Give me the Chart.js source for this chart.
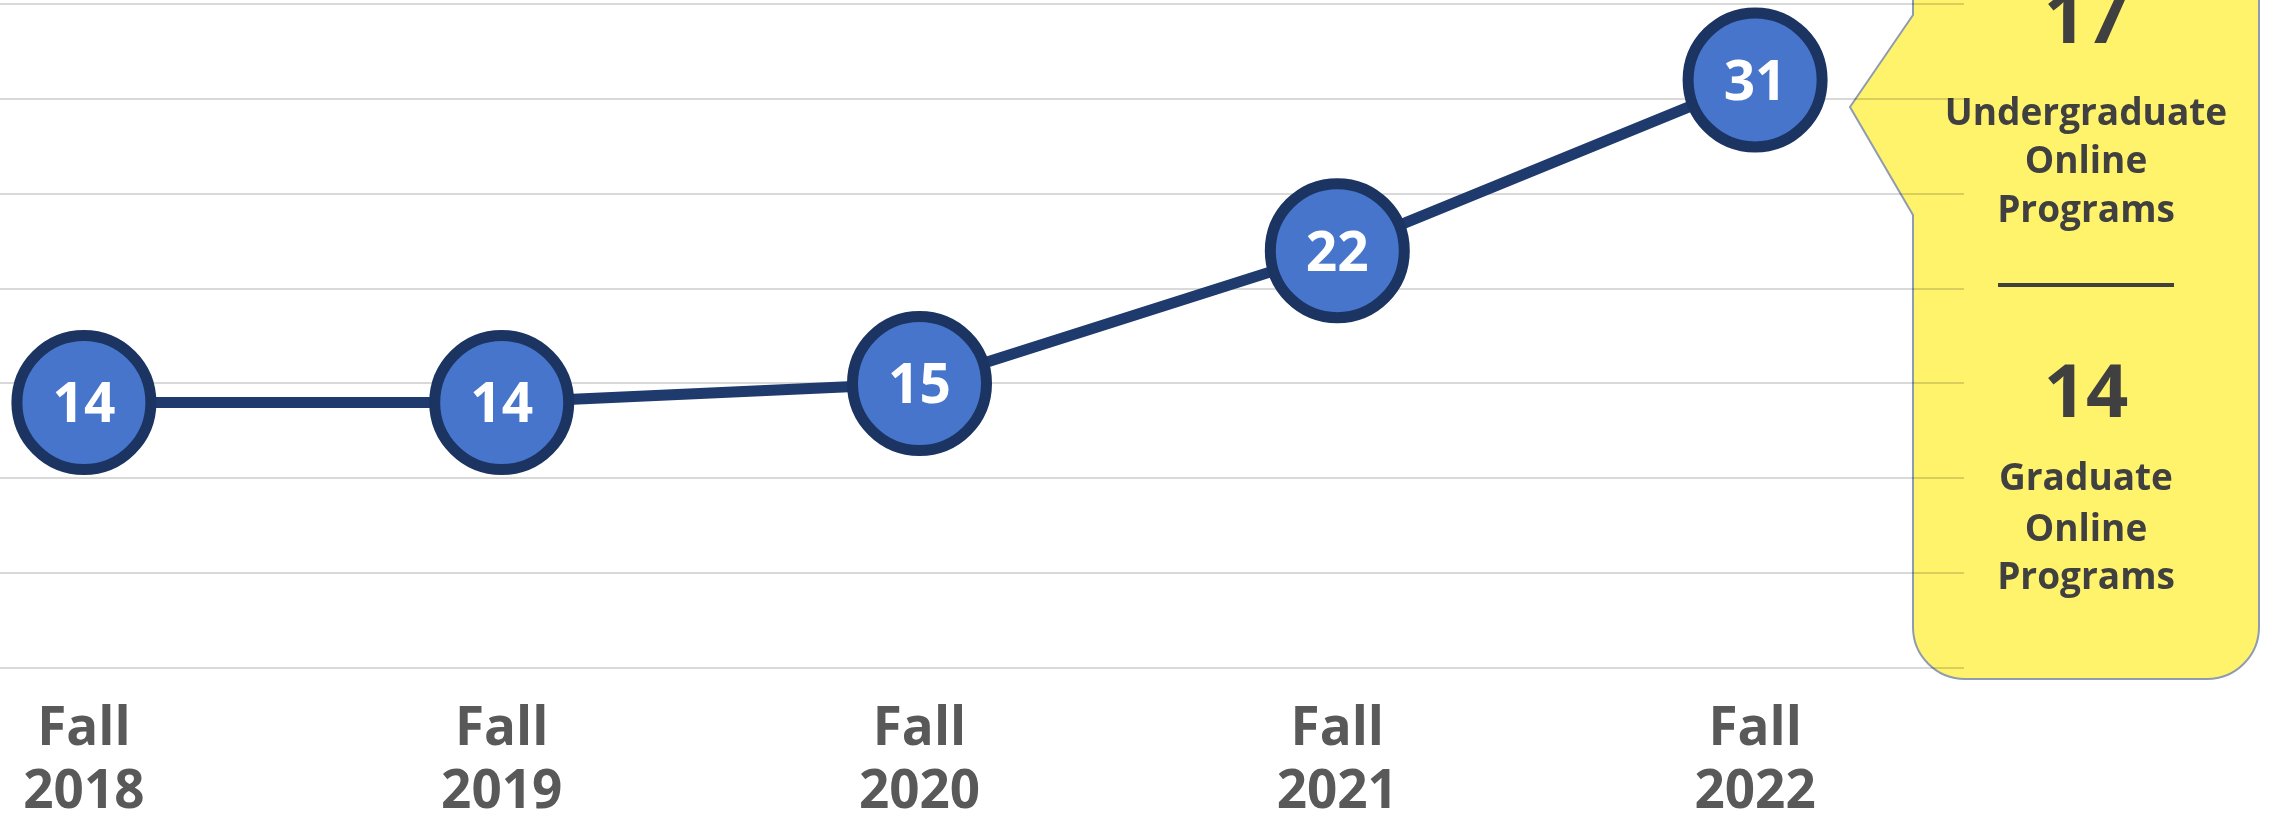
<!DOCTYPE html>
<html>
<head>
<meta charset="utf-8">
<script src="https://cdn.jsdelivr.net/npm/chart.js@4.4.1/dist/chart.umd.min.js"></script>
<style>
  html, body { margin: 0; padding: 0; background: #fff; overflow: hidden; }
  #wrap { position: relative; width: 2269px; height: 813px; overflow: hidden; }
  /* the plot runs off the left edge in the original, so the canvas starts left of the page */
  #wrap canvas { position: absolute; left: -125px; top: 0; }
</style>
</head>
<body>
<div id="wrap"><canvas id="chart" width="2394" height="813"></canvas></div>
<script>
const terms = [['Fall', '2018'], ['Fall', '2019'], ['Fall', '2020'], ['Fall', '2021'], ['Fall', '2022']];
const onlinePrograms = [14, 14, 15, 22, 31];
const yRange = [0, 35];
const yStep = 5;

const calloutCounts = [17, 14];
const calloutLabels = [['Undergraduate', 'Online', 'Programs'], ['Graduate', 'Online', 'Programs']];

const SHIFT = 125;
const FONT = '"Open Sans", "Noto Sans", sans-serif';

const pointLabels = {
  id: 'pointLabels',
  afterDatasetsDraw(chart) {
    const ctx = chart.ctx;
    const meta = chart.getDatasetMeta(0);
    ctx.save();
    ctx.fillStyle = '#ffffff';
    ctx.font = 'bold 55px ' + FONT;
    ctx.textAlign = 'center';
    ctx.textBaseline = 'alphabetic';
    meta.data.forEach((pt, i) => {
      ctx.fillText(String(onlinePrograms[i]), pt.x, pt.y + 20);
    });
    ctx.restore();
  }
};

const callout = {
  id: 'callout',
  beforeDraw(chart) {
    const ctx = chart.ctx;
    const L = 1913, R = 2259, B = 679, r = 52;
    ctx.save();
    ctx.translate(SHIFT, 0);
    ctx.beginPath();
    ctx.moveTo(L, -20);
    ctx.lineTo(L, 15);
    ctx.lineTo(1850, 107);
    ctx.lineTo(L, 215);
    ctx.lineTo(L, B - r);
    ctx.arcTo(L, B, L + r, B, r);
    ctx.lineTo(R - r, B);
    ctx.arcTo(R, B, R, B - r, r);
    ctx.lineTo(R, -20);
    ctx.closePath();
    ctx.fillStyle = '#FFF36B';
    ctx.fill();
    ctx.lineWidth = 2;
    ctx.strokeStyle = '#8E9BB0';
    ctx.stroke();

    const cx = (L + R) / 2;
    ctx.fillStyle = '#404040';
    ctx.textAlign = 'center';
    ctx.textBaseline = 'alphabetic';

    ctx.font = 'bold 74px ' + FONT;
    ctx.fillText(String(calloutCounts[0]), cx, 43);
    ctx.font = 'bold 37px ' + FONT;
    [125, 173, 222].forEach((y, i) => ctx.fillText(calloutLabels[0][i], cx, y));

    ctx.fillRect(1998, 283, 176, 4);

    ctx.font = 'bold 74px ' + FONT;
    ctx.fillText(String(calloutCounts[1]), cx, 417);
    ctx.font = 'bold 37px ' + FONT;
    [490, 541, 589].forEach((y, i) => ctx.fillText(calloutLabels[1][i], cx, y));
    ctx.restore();
  }
};

new Chart(document.getElementById('chart'), {
  type: 'line',
  data: {
    labels: terms,
    datasets: [{
      data: onlinePrograms,
      borderColor: '#1F3A6D',
      borderWidth: 11,
      pointRadius: 67,
      pointHoverRadius: 67,
      pointBorderWidth: 11,
      pointBackgroundColor: '#4675CB',
      pointBorderColor: '#1B3461',
      tension: 0,
      clip: false
    }]
  },
  options: {
    responsive: false,
    animation: false,
    events: [],
    layout: { autoPadding: false, padding: { top: 4, right: 305, bottom: 0, left: 0 } },
    plugins: { legend: { display: false }, tooltip: { enabled: false } },
    scales: {
      x: {
        offset: true,
        grid: { display: false },
        border: { display: false },
        ticks: {
          color: '#595959',
          font: { family: FONT, size: 53, weight: 'bold', lineHeight: 1.2 },
          padding: 22,
          maxRotation: 0,
          autoSkip: false
        },
        afterFit(scale) { scale.height = 145; }
      },
      y: {
        min: yRange[0],
        max: yRange[1],
        border: { display: false },
        grid: { color: 'rgba(0,0,0,0.15)', lineWidth: 2, drawTicks: false },
        ticks: { display: false, stepSize: yStep },
        afterFit(scale) { scale.width = 0; }
      }
    }
  },
  plugins: [callout, pointLabels]
});
</script>
</body>
</html>
